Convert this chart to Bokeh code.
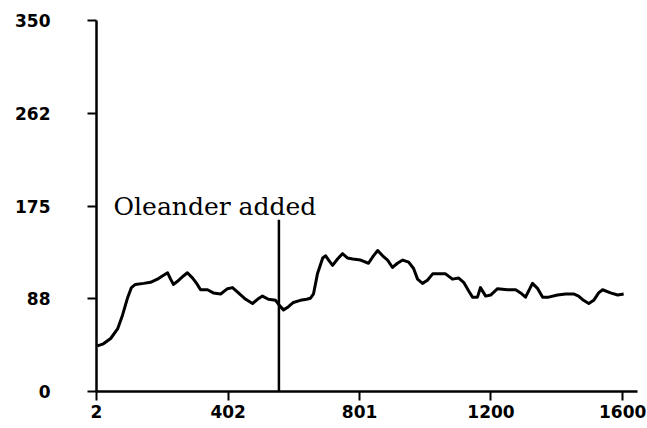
from bokeh.plotting import figure
from bokeh.models import Range1d, FixedTicker, Label
from bokeh.embed import file_html
from bokeh.resources import INLINE

# ---- data ----
x_vals = [5, 23, 45, 66, 81, 97, 108, 120, 145, 166, 187, 202, 218, 227, 236, 248,
          266, 278, 294, 306, 318, 339, 357, 379, 400, 415, 433, 455, 476, 491, 506,
          524, 546, 558, 570, 585, 600, 621, 640, 652, 661, 673, 689, 698, 707, 719,
          734, 749, 764, 780, 804, 828, 843, 856, 871, 886, 901, 916, 932, 950, 965,
          977, 992, 1007, 1023, 1041, 1062, 1083, 1102, 1117, 1132, 1144, 1159, 1168,
          1184, 1199, 1220, 1250, 1275, 1290, 1305, 1326, 1342, 1357, 1375, 1402,
          1427, 1451, 1466, 1481, 1497, 1512, 1527, 1539, 1563, 1585, 1603]
y_vals = [43, 45, 50, 59, 72, 89, 98, 101, 102, 103, 106, 109, 112, 106, 101, 104,
          109, 112, 107, 102, 96, 96, 93, 92, 97, 98, 93, 87, 83, 87, 90,
          87, 86, 81, 77, 80, 84, 86, 87, 88, 92, 111, 126, 128, 124, 119,
          125, 130, 126, 125, 124, 121, 128, 133, 128, 124, 117, 121, 124, 122, 116,
          106, 102, 105, 111, 111, 111, 106, 107, 103, 95, 89, 89, 98,
          90, 91, 97, 96, 96, 93, 89, 102, 97, 89, 89, 91,
          92, 92, 90, 86, 83, 86, 93, 96, 93, 91, 92]

x_ticks = [2, 402, 801, 1200, 1600]
y_ticks = [0, 88, 175, 262, 350]

event_x = 556
event_top = 162
event_label = "Oleander added"
label_x = 54
label_y = 175

p = figure(width=647, height=428, output_backend="svg", toolbar_location=None,
           x_range=Range1d(2, 1645), y_range=Range1d(0, 350),
           min_border_left=96, min_border_right=10, min_border_top=20,
           min_border_bottom=37)
p.outline_line_color = None
p.grid.visible = False
p.background_fill_color = "white"

p.line(x_vals, y_vals, line_color="black", line_width=3, line_join="round")
p.segment(x0=[event_x], y0=[0], x1=[event_x], y1=[event_top],
          line_color="black", line_width=2.5)

p.add_layout(Label(x=label_x, y=label_y, text=event_label,
                   text_font="DejaVu Serif", text_font_size="25px",
                   text_color="black", text_baseline="alphabetic",
                   text_align="left"))

for ax, ticks in ((p.xaxis[0], x_ticks), (p.yaxis[0], y_ticks)):
    ax.ticker = FixedTicker(ticks=ticks)
    ax.axis_line_color = "black"
    ax.axis_line_width = 2.5
    ax.major_tick_line_color = "black"
    ax.major_tick_line_width = 2
    ax.major_tick_in = 0
    ax.minor_tick_line_color = None
    ax.major_label_text_font = "DejaVu Sans"
    ax.major_label_text_font_style = "bold"
    ax.major_label_text_font_size = "17px"
    ax.major_label_text_color = "black"

p.xaxis.major_tick_out = 9
p.xaxis.major_label_standoff = 4
p.yaxis.major_tick_out = 9
p.yaxis.major_label_text_align = "left"
p.yaxis.major_label_standoff = 37

open("out.html", "w").write(file_html(p, INLINE))
